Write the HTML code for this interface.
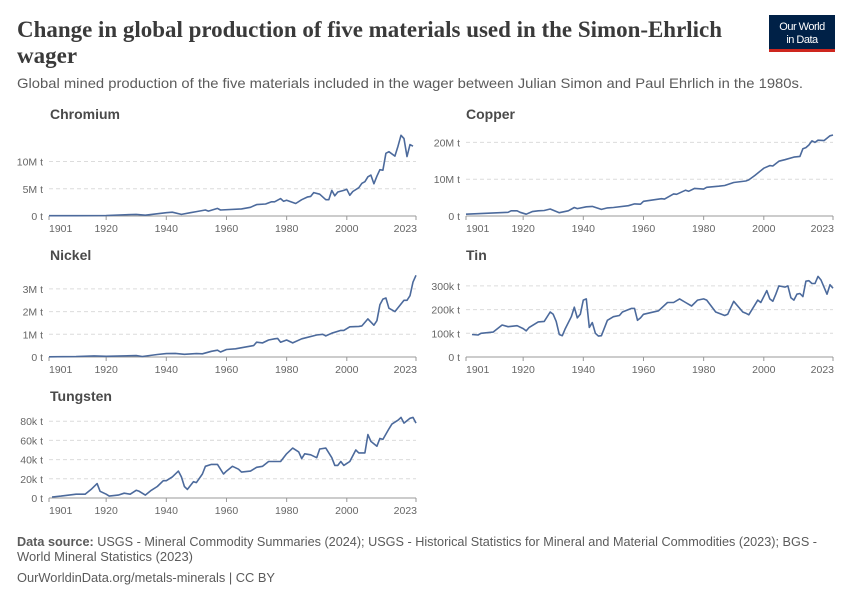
<!DOCTYPE html>
<html><head><meta charset="utf-8"><style>
body{margin:0;background:#fff;}
svg{display:block;font-family:"Liberation Sans",sans-serif;}
.t{font-family:"Liberation Serif",serif;font-weight:bold;font-size:23px;fill:#3a3a3a;}
.sub{font-size:14px;fill:#5b5b5b;}
.pt{font-size:14px;font-weight:bold;fill:#4a4a4a;}
.yl{font-size:10.5px;fill:#666;text-anchor:end;}
.xl{font-size:10.5px;fill:#666;}
.g{stroke:#dcdcdc;stroke-dasharray:4 3;stroke-width:1;}
.ax{stroke:#999;stroke-width:1;}
.ln{fill:none;stroke:#4c6a9c;stroke-width:1.6;stroke-linejoin:round;}
.f{font-size:12.5px;fill:#5b5b5b;}
</style></head><body>
<svg id="s" width="850" height="600" viewBox="0 0 850 600">
<text class="t" x="17" y="37" textLength="705" lengthAdjust="spacingAndGlyphs">Change in global production of five materials used in the Simon-Ehrlich</text>
<text class="t" x="17" y="63">wager</text>
<text class="sub" x="17" y="88" textLength="786" lengthAdjust="spacingAndGlyphs">Global mined production of the five materials included in the wager between Julian Simon and Paul Ehrlich in the 1980s.</text>
<rect x="769" y="15" width="66" height="37" fill="#002147"/>
<rect x="769" y="49" width="66" height="3" fill="#ce261e"/>
<text x="802" y="30" font-size="11" fill="#fff" text-anchor="middle" letter-spacing="-0.5">Our World</text>
<text x="802" y="43" font-size="11" fill="#fff" text-anchor="middle" letter-spacing="-0.5">in Data</text>
<g id="charts"></g>
<text class="f" x="17" y="546" textLength="800" lengthAdjust="spacingAndGlyphs"><tspan font-weight="bold">Data source:</tspan> USGS - Mineral Commodity Summaries (2024); USGS - Historical Statistics for Mineral and Material Commodities (2023); BGS -</text>
<text class="f" x="17" y="561" textLength="176" lengthAdjust="spacingAndGlyphs">World Mineral Statistics (2023)</text>
<text class="f" x="17" y="582" textLength="258" lengthAdjust="spacingAndGlyphs">OurWorldinData.org/metals-minerals | CC BY</text>
</svg>
<script>
var NS="http://www.w3.org/2000/svg",G=document.getElementById("charts");
function el(t,a,txt){var e=document.createElementNS(NS,t);for(var k in a)e.setAttribute(k,a[k]);if(txt!=null)e.textContent=txt;G.appendChild(e);return e;}
function panel(o){
 var x0=o.x0,x1=o.x1,sc=(x1-x0)/122;
 el("text",{class:"pt",x:o.tx,y:o.ty},o.name);
 o.ticks.forEach(function(t){var y=o.y0-t[0]*o.py;
  if(t[0]>0)el("line",{class:"g",x1:x0,x2:x1,y1:y,y2:y});
  el("text",{class:"yl",x:x0-6,y:y+4},t[1]);});
 el("line",{class:"ax",x1:x0,x2:x1,y1:o.y0,y2:o.y0});
 [1901,1920,1940,1960,1980,2000,2023].forEach(function(yr){var x=x0+(yr-1901)*sc;
  el("line",{class:"ax",x1:x,x2:x,y1:o.y0,y2:o.y0+4});
  var a=yr==1901?"start":(yr==2023?"end":"middle");
  el("text",{class:"xl",x:yr==1901?x0:(yr==2023?x1+1:x),y:o.y0+16,"text-anchor":a},String(yr));});
 var d=o.d,p=[];for(var i=0;i<d.length;i+=2){if(d[i]>2023)continue;p.push((x0+(d[i]-1901)*sc).toFixed(1)+","+(o.y0-d[i+1]*o.py).toFixed(1));}
 el("polyline",{class:"ln",points:p.join(" ")});
}
panel({name:"Chromium",tx:50,ty:119,x0:49,x1:416,y0:216,py:5.45,ticks:[[0,"0 t"],[5,"5M t"],[10,"10M t"]],
d:[1901,0.05,1910,0.05,1920,0.1,1930,0.3,1933,0.15,1940,0.6,1942,0.7,1945,0.3,1948,0.6,1950,0.8,1953,1.1,1954,0.9,1957,1.4,1958,1.1,1965,1.3,1968,1.6,1970,2.1,1973,2.2,1975,2.6,1976,2.6,1978,3.2,1979,2.7,1980,2.9,1983,2.3,1985,3.0,1987,3.5,1988,3.6,1989,4.3,1991,4.0,1993,3.0,1994,3.0,1995,4.7,1996,3.7,1997,4.4,1999,4.7,2000,4.9,2001,3.8,2002,4.5,2004,5.2,2005,6.0,2006,6.3,2007,7.2,2008,7.5,2009,5.9,2010,7.3,2011,8.5,2012,8.4,2013,11.5,2014,11.8,2016,11.0,2017,12.8,2018,14.8,2019,14.2,2020,10.9,2021,13.1,2022,12.8]});
panel({name:"Copper",tx:466,ty:119,x0:466,x1:833,y0:216,py:3.68,ticks:[[0,"0 t"],[10,"10M t"],[20,"20M t"]],
d:[1901,0.5,1915,1.0,1916,1.4,1918,1.4,1919,1.0,1921,0.5,1923,1.2,1925,1.4,1927,1.5,1929,1.9,1932,0.9,1935,1.4,1937,2.3,1938,2.0,1941,2.5,1943,2.6,1946,1.8,1948,2.2,1950,2.3,1955,2.8,1957,3.3,1959,3.2,1960,4.0,1966,4.7,1967,4.6,1970,6.0,1971,5.9,1974,7.0,1975,6.7,1977,7.5,1980,7.3,1981,7.8,1985,8.1,1987,8.3,1990,9.1,1994,9.5,1995,9.8,1997,11.0,2000,13.0,2002,13.7,2003,13.6,2005,14.9,2007,15.3,2010,16.0,2012,16.2,2013,18.3,2014,18.6,2015,19.3,2016,20.4,2017,20.0,2018,20.6,2020,20.5,2022,21.8,2023,22.0]});
panel({name:"Nickel",tx:50,ty:260,x0:49,x1:416,y0:357,py:22.7,ticks:[[0,"0 t"],[1,"1M t"],[2,"2M t"],[3,"3M t"]],
d:[1901,0.01,1910,0.02,1916,0.05,1920,0.03,1930,0.06,1932,0.02,1937,0.11,1940,0.15,1943,0.16,1946,0.12,1950,0.15,1952,0.14,1955,0.25,1957,0.3,1958,0.22,1960,0.33,1963,0.36,1966,0.43,1969,0.5,1970,0.65,1972,0.62,1974,0.75,1976,0.8,1977,0.82,1978,0.65,1980,0.75,1982,0.62,1985,0.8,1990,0.97,1992,1.0,1993,0.93,1995,1.05,1998,1.17,1999,1.17,2001,1.33,2004,1.35,2005,1.37,2007,1.68,2009,1.4,2010,1.6,2011,2.3,2012,2.55,2013,2.6,2014,2.15,2016,2.0,2019,2.5,2020,2.5,2021,2.7,2022,3.3,2023,3.6]});
panel({name:"Tin",tx:466,ty:260,x0:466,x1:833,y0:357,py:0.237,ticks:[[0,"0 t"],[100,"100k t"],[200,"200k t"],[300,"300k t"]],
d:[1903,95,1905,93,1906,100,1910,105,1913,135,1915,128,1918,132,1920,120,1921,110,1922,125,1925,148,1927,150,1929,190,1930,180,1931,150,1932,95,1933,90,1934,120,1936,170,1937,210,1938,165,1939,180,1940,240,1941,245,1942,125,1943,145,1944,100,1945,88,1946,90,1948,155,1950,170,1952,175,1953,190,1956,205,1957,205,1958,155,1959,165,1960,180,1965,195,1968,230,1970,230,1972,245,1974,230,1976,215,1978,240,1980,245,1981,240,1984,190,1987,175,1988,180,1990,235,1993,190,1994,185,1995,178,1998,240,1999,230,2001,280,2002,245,2003,235,2004,265,2005,300,2007,295,2008,300,2009,250,2010,240,2011,265,2012,268,2013,255,2014,320,2015,322,2016,310,2017,310,2018,340,2019,325,2021,265,2022,305,2023,290]});
panel({name:"Tungsten",tx:50,ty:401,x0:49,x1:416,y0:498,py:0.96,ticks:[[0,"0 t"],[20,"20k t"],[40,"40k t"],[60,"60k t"],[80,"80k t"]],
d:[1902,1,1905,2,1910,4,1913,4,1915,9,1917,15,1918,7,1920,4,1921,2,1924,3,1926,5,1928,4,1930,8,1931,7,1933,3,1935,8,1937,12,1939,18,1940,18,1942,22,1944,28,1945,22,1946,12,1947,9,1949,17,1950,16,1952,25,1953,33,1955,35,1957,35,1959,25,1960,28,1962,33,1964,30,1965,27,1968,28,1970,32,1972,33,1974,38,1978,38,1980,46,1982,52,1984,48,1985,41,1986,46,1988,45,1990,42,1991,51,1993,52,1995,42,1996,34,1997,34,1998,38,1999,34,2000,36,2001,38,2003,50,2004,47,2006,47,2007,66,2008,59,2010,54,2011,62,2012,61,2014,72,2015,77,2017,81,2018,84,2019,78,2021,83,2022,84,2023,78]});
</script>
</body></html>
